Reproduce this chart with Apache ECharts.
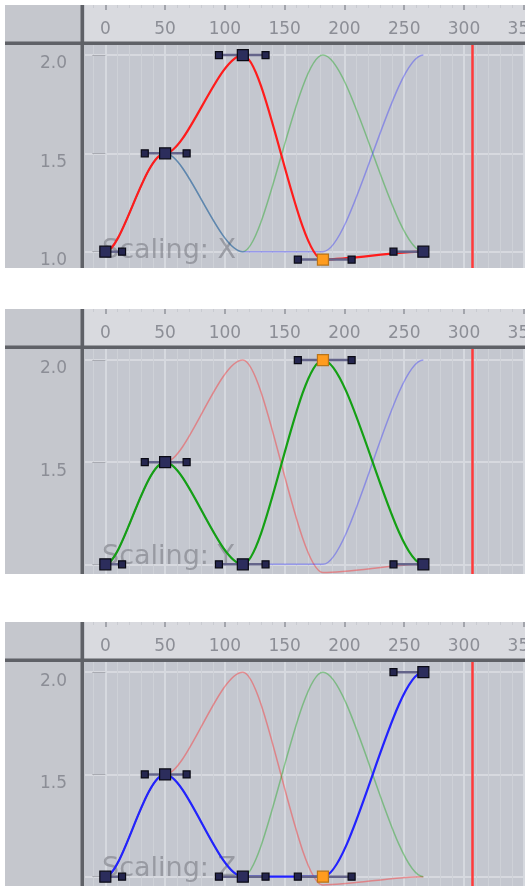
<!DOCTYPE html>
<html><head><meta charset="utf-8">
<script src="https://cdn.jsdelivr.net/npm/echarts@6/dist/echarts.min.js"></script>
<style>html,body{margin:0;padding:0;background:#fff;} #c{width:525px;height:886px;}</style>
</head><body><div id="c"></div>
<script>
// ---- data ----
const keyFrames   = [0, 50, 115, 182, 266];
const leftHandle  = [null, 33, 95, 161, 241];
const rightHandle = [14, 68, 134, 206, null];
const scaleX = [1.0, 1.5, 2.0, 0.96, 1.0];
const scaleY = [1.0, 1.5, 1.0, 2.0, 1.0];
const scaleZ = [1.0, 1.5, 1.0, 1.0, 2.0];
const selectedKey = 3;
const currentFrame = 307;
const frameTicks = [0, 50, 100, 150, 200, 250, 300, 350];
const minorFrameTicks = [-10, 10, 20, 30, 40, 60, 70, 80, 90, 110, 120, 130, 140, 160, 170, 180, 190, 210, 220, 230, 240, 260, 270, 280, 290, 310, 320, 330, 340];
const valueTicks = [1.0, 1.5, 2.0];
const valueLabelsFull = [1.0, 1.5, 2.0];
const valueLabelsCut = [1.5, 2.0];
const channelNames = ['X', 'Y', 'Z'];
const channelValues = [scaleX, scaleY, scaleZ];

// ---- styles / layout ----
const activeColors = ['#ff1c1c', '#14a014', '#2222ff'];
const faintColors = ['rgba(255,40,40,0.42)', 'rgba(0,160,0,0.36)', 'rgba(40,40,255,0.36)'];
const panels = [
  {top: 5,   bottom: 268, yMin: 0.917,  yMax: 2.051, labels: valueLabelsFull},
  {top: 309, bottom: 574, yMin: 0.9525, yMax: 2.054, labels: valueLabelsCut},
  {top: 622, bottom: 886, yMin: 0.9545, yMax: 2.050, labels: valueLabelsCut}
];
const FONT = 'DejaVu Sans';
const labelColor = '#8c8e96';
const X_MIN = -17, X_MAX = 351;

function segments(vals) {
  return keyFrames.slice(0, -1).map((f, k) =>
    [f, vals[k], rightHandle[k], leftHandle[k + 1], keyFrames[k + 1], vals[k + 1]]);
}
function keys(vals) {
  return keyFrames.map((f, k) =>
    [f, vals[k], leftHandle[k] == null ? f : leftHandle[k], rightHandle[k] == null ? f : rightHandle[k], k === selectedKey ? 1 : 0]);
}
function curveItem(color, width) {
  return function (params, api) {
    const p0 = api.coord([api.value(0), api.value(1)]);
    const c1 = api.coord([api.value(2), api.value(1)]);
    const c2 = api.coord([api.value(3), api.value(5)]);
    const p1 = api.coord([api.value(4), api.value(5)]);
    return {type: 'bezierCurve',
      shape: {x1: p0[0], y1: p0[1], cpx1: c1[0], cpy1: c1[1], cpx2: c2[0], cpy2: c2[1], x2: p1[0], y2: p1[1]},
      style: {stroke: color, lineWidth: width, fill: null}};
  };
}
function sq(c, s, fill, stroke) {
  return {type: 'rect', shape: {x: c[0] - s / 2, y: c[1] - s / 2, width: s, height: s},
    style: {fill: fill, stroke: stroke, lineWidth: 1.2}};
}
function keyItem(params, api) {
  const f = api.value(0), v = api.value(1), lh = api.value(2), rh = api.value(3), sel = api.value(4);
  const pk = api.coord([f, v]), pl = api.coord([lh, v]), pr = api.coord([rh, v]);
  const ch = [];
  ch.push({type: 'line', shape: {x1: pl[0], y1: pl[1], x2: pr[0], y2: pr[1]}, style: {stroke: '#64648a', lineWidth: 2.5}});
  if (lh !== f) ch.push(sq(pl, 7, '#25264f', '#0a0a14'));
  if (rh !== f) ch.push(sq(pr, 7, '#25264f', '#0a0a14'));
  ch.push(sq(pk, 11, sel ? '#ff9c1f' : '#2c2d5c', sel ? '#b8741a' : '#0a0a14'));
  return {type: 'group', children: ch};
}

const grid = [], xAxis = [], yAxis = [], series = [], graphic = [];
panels.forEach((p, i) => {
  const gTop = p.top + 40;
  grid.push({left: 85, top: gTop, width: 440, height: p.bottom - gTop, show: true,
    outerBoundsMode: 'none', containLabel: false,
    backgroundColor: '#c4c7cf', borderWidth: 0});
  xAxis.push({gridIndex: i, type: 'value', position: 'top', offset: 40, min: X_MIN, max: X_MAX,
    axisLine: {show: false},
    axisTick: {show: true, inside: true, length: 5, customValues: frameTicks, lineStyle: {color: '#a3a5ac', width: 2}},
    axisLabel: {inside: true, customValues: frameTicks, margin: 16, color: labelColor, fontSize: 17, fontFamily: FONT},
    splitLine: {show: true, lineStyle: {color: '#d6d9df', width: 2}}});
  xAxis.push({gridIndex: i, type: 'value', position: 'top', offset: 40, min: X_MIN, max: X_MAX,
    axisLine: {show: false},
    axisTick: {show: true, inside: true, length: 3, customValues: minorFrameTicks, lineStyle: {color: '#c9cbd1', width: 1}},
    axisLabel: {show: false, customValues: minorFrameTicks},
    splitLine: {show: true, lineStyle: {color: '#ced1d7', width: 1}}});
  yAxis.push({gridIndex: i, type: 'value', position: 'left', min: p.yMin, max: p.yMax,
    axisLine: {show: false},
    axisTick: {show: true, length: 13, customValues: valueTicks, lineStyle: {color: '#a9abb2', width: 1}},
    axisLabel: {customValues: p.labels, margin: 18, color: labelColor, fontSize: 17, fontFamily: FONT,
      verticalAlign: 'top', lineHeight: 18, formatter: v => Number(v).toFixed(1)},
    splitLine: {show: true, lineStyle: {color: '#d7d9df', width: 2}}});

  const xi = 2 * i;
  [0, 1, 2].filter(c => c !== i).forEach(c => {
    series.push({type: 'custom', xAxisIndex: xi, yAxisIndex: i, z: 2, silent: true,
      renderItem: curveItem(faintColors[c], 1.5), encode: {x: [0, 4], y: [1, 5]},
      data: segments(channelValues[c])});
  });
  series.push({type: 'custom', xAxisIndex: xi, yAxisIndex: i, z: 3, silent: true,
    renderItem: curveItem(activeColors[i], 2.2), encode: {x: [0, 4], y: [1, 5]},
    data: segments(channelValues[i])});
  series.push({type: 'custom', xAxisIndex: xi, yAxisIndex: i, z: 4, silent: true,
    renderItem: keyItem, encode: {x: [0, 2, 3], y: 1},
    data: keys(channelValues[i])});
  series.push({type: 'line', xAxisIndex: xi, yAxisIndex: i, data: [], silent: true,
    markLine: {silent: true, symbol: ['none', 'none'], label: {show: false},
      lineStyle: {color: '#ff3a3a', width: 2.5, type: 'solid'}, data: [{xAxis: currentFrame}]}});

  graphic.push(
    {type: 'rect', z: -1, shape: {x: 5, y: p.top, width: 80, height: p.bottom - p.top}, style: {fill: '#c5c7cd'}},
    {type: 'rect', z: -1, shape: {x: 85, y: p.top, width: 440, height: 40}, style: {fill: '#d9dadf'}},
    {type: 'rect', z: 10, shape: {x: 80.5, y: p.top, width: 3.5, height: p.bottom - p.top}, style: {fill: '#5f6167'}},
    {type: 'rect', z: 10, shape: {x: 5, y: p.top + 36.5, width: 520, height: 3.5}, style: {fill: '#5f6167'}},
    {type: 'text', z: 1, x: 102, y: p.bottom - 17,
      style: {text: 'Scaling: ' + channelNames[i], font: '27px "DejaVu Sans"', fill: 'rgba(124,126,134,0.62)', verticalAlign: 'middle', align: 'left'}}
  );
});

const chart = echarts.init(document.getElementById('c'), null, {renderer: 'canvas'});
chart.setOption({animation: false, backgroundColor: '#ffffff', grid, xAxis, yAxis, series, graphic});
</script>
</body></html>
